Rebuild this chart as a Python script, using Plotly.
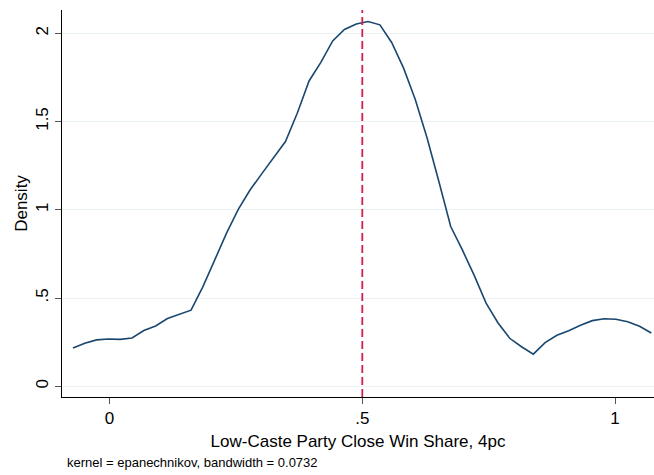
import plotly.graph_objects as go

x_vals = [-0.0723, -0.0490, -0.0256, -0.0023, 0.0211, 0.0444, 0.0678, 0.0911, 0.1145, 0.1378,
          0.1612, 0.1845, 0.2079, 0.2312, 0.2546, 0.2779, 0.3013, 0.3246, 0.3480, 0.3713,
          0.3947, 0.4180, 0.4414, 0.4647, 0.4881, 0.5114, 0.5348, 0.5581, 0.5815, 0.6048,
          0.6282, 0.6515, 0.6749, 0.6982, 0.7216, 0.7449, 0.7683, 0.7916, 0.8150, 0.8383,
          0.8617, 0.8850, 0.9084, 0.9317, 0.9551, 0.9784, 1.0018, 1.0251, 1.0485, 1.0718]
density = [0.217, 0.244, 0.263, 0.268, 0.266, 0.274, 0.316, 0.342, 0.384, 0.407,
           0.431, 0.563, 0.717, 0.866, 1.002, 1.112, 1.205, 1.293, 1.387, 1.547,
           1.730, 1.835, 1.957, 2.022, 2.053, 2.067, 2.048, 1.948, 1.804, 1.625,
           1.407, 1.160, 0.905, 0.771, 0.627, 0.471, 0.360, 0.272, 0.224, 0.182,
           0.247, 0.289, 0.315, 0.346, 0.372, 0.383, 0.380, 0.366, 0.340, 0.302]
cutoff = 0.5
x_ticks = [0, 0.5, 1]
x_tick_labels = ["0", ".5", "1"]
y_ticks = [0, 0.5, 1, 1.5, 2]
y_tick_labels = ["0", ".5", "1", "1.5", "2"]
x_title = "Low-Caste Party Close Win Share, 4pc"
y_title = "Density"
note = "kernel = epanechnikov, bandwidth = 0.0732"

FONT = "Liberation Sans, Arial, sans-serif"
FS = 17

fig = go.Figure()
fig.add_trace(go.Scatter(x=x_vals, y=density, mode="lines",
                         line=dict(color="#1a476f", width=1.6), showlegend=False,
                         hoverinfo="skip"))

fig.add_shape(type="line", xref="x", yref="paper", x0=cutoff, x1=cutoff, y0=0, y1=1,
              line=dict(color="#d21f4b", width=1.8, dash="8px,4px"))

fig.add_annotation(text=note, xref="paper", yref="paper", x=0.005, y=-0.1705,
                   xanchor="left", yanchor="middle", showarrow=False,
                   font=dict(family=FONT, size=13, color="#000000"))

fig.update_layout(
    width=654, height=475,
    margin=dict(l=62, r=0, t=10, b=78),
    paper_bgcolor="white", plot_bgcolor="white",
    font=dict(family=FONT, size=FS, color="#000000"),
    xaxis=dict(range=[-0.0941, 1.0771], tickvals=x_ticks, ticktext=x_tick_labels,
               showgrid=False, zeroline=False, showline=True, linecolor="#000000",
               linewidth=1, ticks="outside", ticklen=6, tickcolor="#555555",
               automargin=False,
               tickfont=dict(size=FS), title=dict(text=x_title, font=dict(size=FS), standoff=7)),
    yaxis=dict(range=[-0.0607, 2.132], tickvals=y_ticks, ticktext=y_tick_labels,
               showgrid=True, gridcolor="#eaf2f3", gridwidth=1, zeroline=False,
               showline=True, linecolor="#000000", linewidth=1, ticks="outside",
               automargin=False,
               ticklen=6, tickcolor="#555555", tickangle=-90, tickfont=dict(size=FS),
               title=dict(text=y_title, font=dict(size=FS), standoff=1)),
)

fig.write_html("out.html", config={"displayModeBar": False},
               post_script="document.body.style.margin='0';document.body.style.padding='0';")
